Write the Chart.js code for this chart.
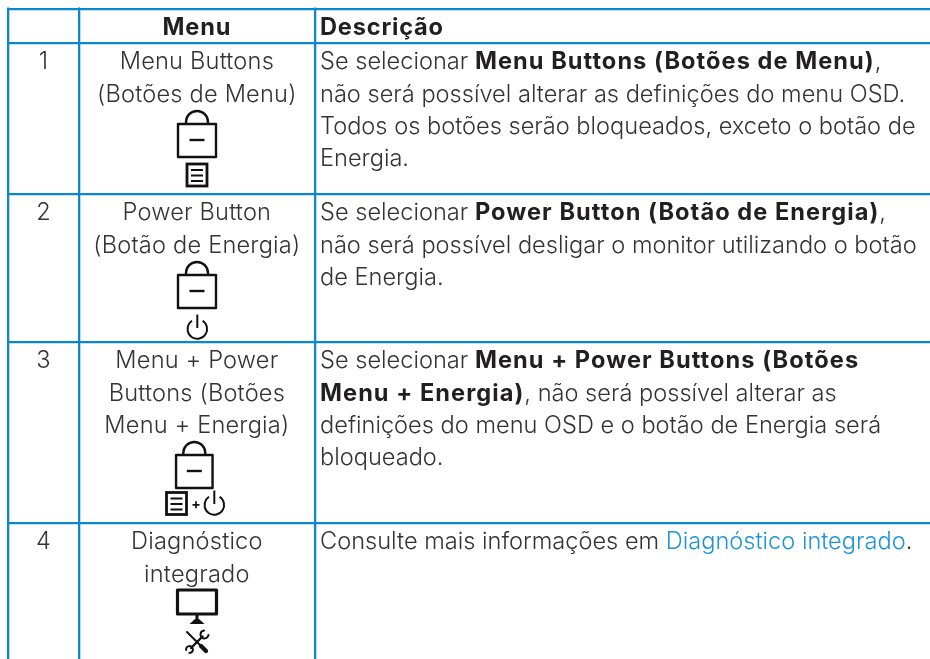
<!DOCTYPE html>
<html><head><meta charset="utf-8">
<style>html,body{margin:0;padding:0;background:#fff}#w{width:930px;height:659px}</style>
<script src="https://cdn.jsdelivr.net/npm/chart.js@4"></script></head>
<body><div id="w"><canvas id="c" width="930" height="659"></canvas></div>
<script>
const columnEdges=[8.5,78.7,315];
const rowEdges=[8.8,43.2,194.3,342.3,523.3];
const headers=["","Menu","Descrição"];
const rowNumbers=["1","2","3","4"];
const menuLines=[["Menu Buttons","(Botões de Menu)"],["Power Button","(Botão de Energia)"],["Menu + Power","Buttons (Botões","Menu + Energia)"],["Diagnóstico","integrado"]];
const descLines=[
 [[["Se selecionar ",0],["Menu Buttons (Botões de Menu)",1],[",",0]],[["não será possível alterar as definições do menu OSD.",0]],[["Todos os botões serão bloqueados, exceto o botão de",0]],[["Energia.",0]]],
 [[["Se selecionar ",0],["Power Button (Botão de Energia)",1],[",",0]],[["não será possível desligar o monitor utilizando o botão",0]],[["de Energia.",0]]],
 [[["Se selecionar ",0],["Menu + Power Buttons (Botões",1]],[["Menu + Energia)",1],[", não será possível alterar as",0]],[["definições do menu OSD e o botão de Energia será",0]],[["bloqueado.",0]]],
 [[["Consulte mais informações em ",0],["Diagnóstico integrado",2],[".",0]]]
];
const FF='Inter',SZ=23.6,LH=32.3;
const INK='#333333',BOLD='#231f20',LINK='#1f95d8',GRID='#0b87cc';
function icoLock(g,cx,top,w){w=w||38;g.lineWidth=2.4;g.strokeStyle='#111';g.lineJoin='round';
 g.strokeRect(cx-w/2,top+13,w,33);g.beginPath();g.moveTo(cx-11,top+13);g.lineTo(cx-11,top+11);g.arc(cx,top+11,11,Math.PI,0);g.lineTo(cx+11,top+13);g.stroke();
 g.lineWidth=2.4;g.beginPath();g.moveTo(cx-7.5,top+29);g.lineTo(cx+7.5,top+29);g.stroke();}
function icoMenu(g,x,y){g.lineWidth=2.8;g.strokeStyle='#111';g.lineJoin='miter';g.strokeRect(x,y,20,22);
 g.lineWidth=2.2;g.beginPath();[6,11.5,17].forEach(d=>{g.moveTo(x+4,y+d);g.lineTo(x+16,y+d);});g.stroke();}
function icoPower(g,cx,cy){g.lineWidth=2;g.strokeStyle='#111';g.beginPath();g.arc(cx,cy,9.8,-1.0,Math.PI+1.0);g.stroke();
 g.beginPath();g.moveTo(cx,cy-14.5);g.lineTo(cx,cy-1);g.stroke();}
function icoMonitor(g,cx,top){g.strokeStyle='#111';g.lineWidth=3.2;g.lineJoin='round';g.strokeRect(cx-19.5,top+1,39,24);
 g.fillStyle='#111';g.fillRect(cx-1.5,top+26,3,6);g.beginPath();g.moveTo(cx-7.5,top+35);g.lineTo(cx+7.5,top+35);g.lineTo(cx+2,top+30);g.lineTo(cx-2,top+30);g.fill();}
function icoTools(g,cx,cy){g.strokeStyle='#111';g.lineCap='round';
 g.lineWidth=1.9;g.beginPath();g.moveTo(cx-10,cy-10);g.lineTo(cx+3,cy+3);g.stroke();
 g.lineWidth=4.2;g.beginPath();g.moveTo(cx+4,cy+4);g.lineTo(cx+9,cy+9);g.stroke();
 g.lineWidth=2.4;g.beginPath();g.moveTo(cx+5.5,cy-5.5);g.lineTo(cx-6,cy+6);g.stroke();
 g.lineWidth=2;g.beginPath();g.arc(cx+7.5,cy-7.5,4,0.1,4.6);g.stroke();
 g.beginPath();g.arc(cx-7.5,cy+7.5,3.4,3.0,7.9);g.stroke();g.lineCap='butt';}
const tablePlugin={id:'table',afterDraw(ch){
 const g=ch.ctx,X=ch.scales.x,Y=ch.scales.y;g.save();g.textBaseline='alphabetic';
 const f=b=>(b?'700 ':'300 ')+SZ+'px '+FF;
 const colC=i=>(X.getPixelForValue(columnEdges[i])+X.getPixelForValue(columnEdges[i+1]))/2;
 g.letterSpacing='0.8px';
 g.textAlign='center';g.fillStyle=BOLD;g.font=f(1);g.fillText(headers[1],colC(1),34.5);
 g.textAlign='left';g.fillText(headers[2],320,34.5);
 rowEdges.slice(1).forEach((e,r)=>{const base=Y.getPixelForValue(e)+26;
  g.letterSpacing='0.2px';g.textAlign='center';g.fillStyle=INK;g.font=f(0);
  g.fillText(rowNumbers[r],colC(0),base);
  menuLines[r].forEach((t,i)=>g.fillText(t,colC(1),base+i*LH));
  g.textAlign='left';
  descLines[r].forEach((parts,i)=>{let x=320;parts.forEach(([t,k])=>{g.letterSpacing=k===1?'1.05px':'0px';g.font=f(k===1);g.fillStyle=k===1?BOLD:k===2?LINK:INK;g.fillText(t,x,base+i*LH);x+=g.measureText(t).width;});});
 });
 g.letterSpacing='0px';
 icoLock(g,197,111);icoMenu(g,187,164);
 icoLock(g,197,262);icoPower(g,197.3,329);
 icoLock(g,194.3,442,36.5);icoMenu(g,166.5,492.5);g.fillStyle='#111';g.font='700 14px '+FF;g.textAlign='center';g.fillText('+',196,509);icoPower(g,214.3,505);
 icoMonitor(g,197,589);icoTools(g,197,642);
 g.restore();
}};
new Chart(document.getElementById('c'),{type:'scatter',data:{datasets:[{data:[],showLine:false}]},plugins:[tablePlugin],
 options:{responsive:false,animation:false,events:[],layout:{padding:{left:7,top:7.5,right:0,bottom:0}},
  plugins:{legend:{display:false},tooltip:{enabled:false},title:{display:false}},
  scales:{
   x:{type:'linear',min:7,max:930,afterBuildTicks:a=>{a.ticks=columnEdges.map(v=>({value:v}));},afterFit:a=>{a.height=0;},
      ticks:{display:false},border:{display:false},grid:{color:GRID,lineWidth:2.3,drawTicks:false}},
   y:{type:'linear',min:7.5,max:659,reverse:true,afterBuildTicks:a=>{a.ticks=rowEdges.map(v=>({value:v}));},afterFit:a=>{a.width=0;},
      ticks:{display:false},border:{display:false},grid:{color:GRID,lineWidth:2.3,drawTicks:false}}
  }}});
</script></body></html>
